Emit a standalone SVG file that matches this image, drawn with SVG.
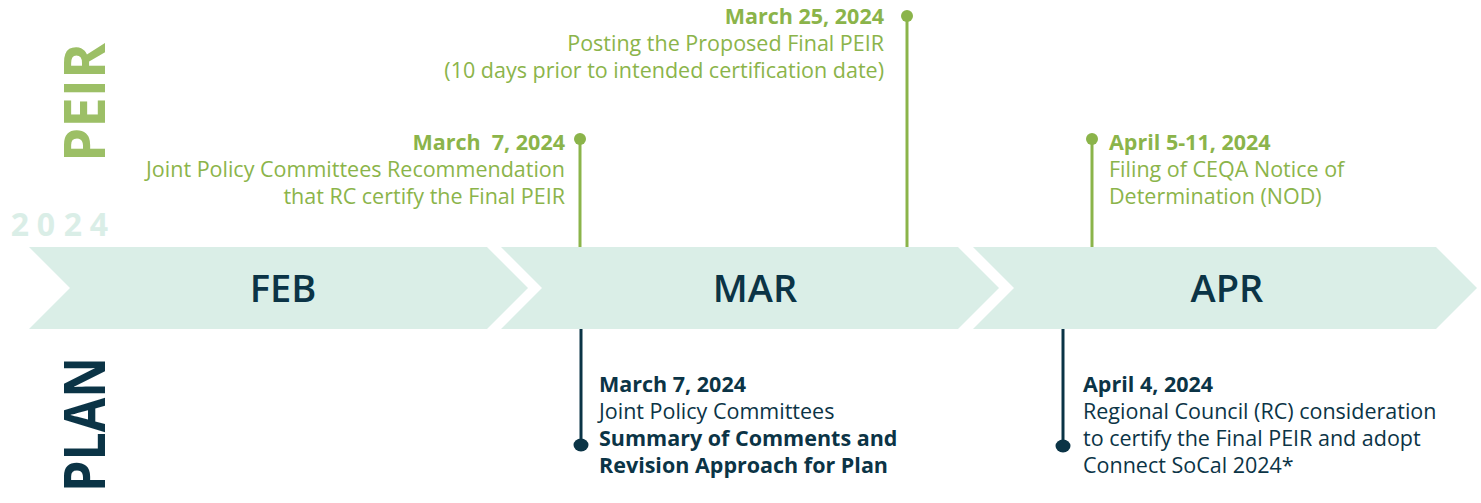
<svg xmlns="http://www.w3.org/2000/svg" width="1481" height="503" viewBox="0 0 1481 503">
<style>
.chev{fill:#DAEEE7}
.month{font-family:"Open Sans","Noto Sans",sans-serif;font-weight:600;font-size:38px;fill:#0B3446;text-anchor:middle}
.side{font-family:"Open Sans","Noto Sans",sans-serif;font-weight:700;font-size:58px;text-anchor:middle}
.t{font-family:"Open Sans","Noto Sans",sans-serif;font-size:21.5px}
.b{font-weight:700}
.g{fill:#8BB44A}
.n{fill:#0B3446}
.gl{stroke:#8BB44A;stroke-width:3;fill:none}
.nl{stroke:#0B3446;stroke-width:3;fill:none}
</style>
<rect width="1481" height="503" fill="#FFFFFF"/>
<g id="side-labels">
<text class="side" transform="translate(105,102.5) rotate(-90)" fill="#9CBF66" textLength="119" lengthAdjust="spacingAndGlyphs">PEIR</text>
<text class="side" transform="translate(105,424.5) rotate(-90)" fill="#0B3446" textLength="135" lengthAdjust="spacingAndGlyphs">PLAN</text>
<text font-family="'Open Sans','Noto Sans',sans-serif" font-weight="700" font-size="32" fill="#DAEEE7" text-anchor="middle" x="20 46 73 99" y="236">2024</text>
</g>
<g id="feb">
<polygon class="chev" points="29,247 487,247 528,288 487,329 29,329 70,288"/>
<text class="month" x="283" y="302">FEB</text>
</g>
<g id="mar">
<polygon class="chev" points="501,247 958,247 999,288 958,329 501,329 542,288"/>
<text class="month" x="755" y="302">MAR</text>
</g>
<g id="apr">
<polygon class="chev" points="973,247 1436,247 1477,288 1436,329 973,329 1014,288"/>
<text class="month" x="1227" y="302">APR</text>
</g>
<g id="connectors">
<line class="gl" x1="580" y1="139" x2="580" y2="247"/>
<circle cx="580" cy="139" r="6" fill="#8BB44A"/>
<line class="gl" x1="907" y1="16" x2="907" y2="247"/>
<circle cx="907" cy="16" r="6" fill="#8BB44A"/>
<line class="gl" x1="1092" y1="139" x2="1092" y2="247"/>
<circle cx="1092" cy="139" r="6" fill="#8BB44A"/>
<line class="nl" x1="581" y1="329" x2="581" y2="445"/>
<ellipse cx="581" cy="445" rx="7.5" ry="6.5" fill="#0B3446"/>
<line class="nl" x1="1063" y1="329" x2="1063" y2="446"/>
<ellipse cx="1063" cy="446" rx="7.5" ry="6.5" fill="#0B3446"/>
</g>
<g id="event-peir-mar7" class="t g" text-anchor="end">
<text x="565" y="150" class="b" xml:space="preserve">March  7, 2024</text>
<text x="565" y="177">Joint Policy Committees Recommendation</text>
<text x="565" y="204">that RC certify the Final PEIR</text>
</g>
<g id="event-peir-mar25" class="t g" text-anchor="end">
<text x="884" y="24" class="b">March 25, 2024</text>
<text x="884" y="51">Posting the Proposed Final PEIR</text>
<text x="884" y="78">(10 days prior to intended certification date)</text>
</g>
<g id="event-peir-apr5" class="t g">
<text x="1109" y="150" class="b">April 5-11, 2024</text>
<text x="1109" y="177">Filing of CEQA Notice of</text>
<text x="1109" y="204">Determination (NOD)</text>
</g>
<g id="event-plan-mar7" class="t n">
<text x="599" y="392" class="b">March 7, 2024</text>
<text x="599" y="419">Joint Policy Committees</text>
<text x="599" y="446" class="b">Summary of Comments and</text>
<text x="599" y="473" class="b">Revision Approach for Plan</text>
</g>
<g id="event-plan-apr4" class="t n">
<text x="1083" y="392" class="b">April 4, 2024</text>
<text x="1083" y="419">Regional Council (RC) consideration</text>
<text x="1083" y="446">to certify the Final PEIR and adopt</text>
<text x="1083" y="473">Connect SoCal 2024*</text>
</g>
</svg>
